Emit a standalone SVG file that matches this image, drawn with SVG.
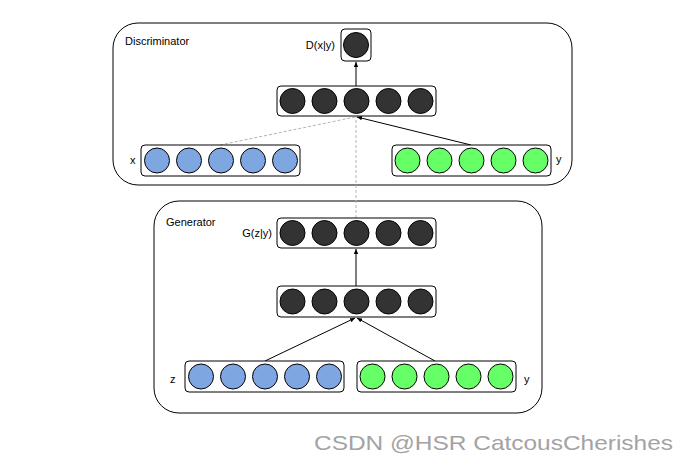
<svg xmlns="http://www.w3.org/2000/svg" width="689" height="463" viewBox="0 0 689 463">
<style>
.panel{fill:#fff;stroke:#000;stroke-width:1}
.layer{fill:#fff;stroke:#000;stroke-width:1}
.dk{fill:#333333;stroke:#000;stroke-width:1}
.bl{fill:#7EA6E0;stroke:#000;stroke-width:1}
.gr{fill:#66FF66;stroke:#000;stroke-width:1}
.t{font-family:"Liberation Sans",Arial,sans-serif;font-size:11px;fill:#000}
.edge{fill:none;stroke:#000;stroke-width:1}
.dash{fill:none;stroke:#b3b3b3;stroke-width:1;stroke-dasharray:3 2}
.wm{font-family:"Liberation Sans",Arial,sans-serif;font-size:21px;fill:#a3a3a3}
</style>
<defs>
<marker id="ah" markerWidth="6" markerHeight="6" refX="5" refY="3" orient="auto" markerUnits="userSpaceOnUse">
<path d="M0,0.8 L5,3 L0,5.2 Z" fill="#000"/>
</marker>
</defs>
<rect width="689" height="463" fill="#fff"/>
<g id="discriminator">
<rect class="panel" x="113" y="23" width="459" height="162" rx="25"/>
<text class="t" x="125" y="45">Discriminator</text>
</g>
<g id="generator">
<rect class="panel" x="154" y="201" width="388" height="212" rx="25"/>
<text class="t" x="166" y="226">Generator</text>
</g>
<g id="connectors">
<line class="edge" x1="356" y1="86" x2="356" y2="62" marker-end="url(#ah)"/>
<line class="edge" x1="471" y1="145" x2="357" y2="117" marker-end="url(#ah)"/>
<line class="dash" x1="220" y1="145" x2="355" y2="117"/>
<line class="dash" x1="356" y1="218" x2="356" y2="117"/>
<line class="edge" x1="356" y1="286" x2="356" y2="249" marker-end="url(#ah)"/>
<line class="edge" x1="265" y1="361" x2="355" y2="318" marker-end="url(#ah)"/>
<line class="edge" x1="435" y1="361" x2="357" y2="318" marker-end="url(#ah)"/>
</g>
<g id="d-out">
<rect class="layer" x="341" y="29" width="30" height="32" rx="4"/>
<circle class="dk" cx="356" cy="45" r="12.5"/>
<text class="t" x="335" y="49" text-anchor="end">D(x|y)</text>
</g>
<g id="d-hidden">
<rect class="layer" x="277" y="86" width="159" height="30" rx="4"/>
<circle class="dk" cx="292.5" cy="101" r="12.5"/>
<circle class="dk" cx="324.5" cy="101" r="12.5"/>
<circle class="dk" cx="356.5" cy="101" r="12.5"/>
<circle class="dk" cx="388.5" cy="101" r="12.5"/>
<circle class="dk" cx="420.5" cy="101" r="12.5"/>
</g>
<g id="d-x">
<rect class="layer" x="141" y="145" width="159" height="31" rx="4"/>
<circle class="bl" cx="157" cy="160.5" r="12.5"/>
<circle class="bl" cx="189" cy="160.5" r="12.5"/>
<circle class="bl" cx="221" cy="160.5" r="12.5"/>
<circle class="bl" cx="253" cy="160.5" r="12.5"/>
<circle class="bl" cx="285" cy="160.5" r="12.5"/>
<text class="t" x="130" y="164">x</text>
</g>
<g id="d-y">
<rect class="layer" x="392" y="145" width="159" height="31" rx="4"/>
<circle class="gr" cx="407.5" cy="160.5" r="12.5"/>
<circle class="gr" cx="439.5" cy="160.5" r="12.5"/>
<circle class="gr" cx="471.5" cy="160.5" r="12.5"/>
<circle class="gr" cx="503.5" cy="160.5" r="12.5"/>
<circle class="gr" cx="535.5" cy="160.5" r="12.5"/>
<text class="t" x="556" y="163">y</text>
</g>
<g id="g-out">
<rect class="layer" x="277" y="218" width="159" height="30" rx="4"/>
<circle class="dk" cx="292.5" cy="233" r="12.5"/>
<circle class="dk" cx="324.5" cy="233" r="12.5"/>
<circle class="dk" cx="356.5" cy="233" r="12.5"/>
<circle class="dk" cx="388.5" cy="233" r="12.5"/>
<circle class="dk" cx="420.5" cy="233" r="12.5"/>
<text class="t" x="272" y="237" text-anchor="end">G(z|y)</text>
</g>
<g id="g-hidden">
<rect class="layer" x="277" y="286" width="159" height="31" rx="4"/>
<circle class="dk" cx="292.5" cy="301.5" r="12.5"/>
<circle class="dk" cx="324.5" cy="301.5" r="12.5"/>
<circle class="dk" cx="356.5" cy="301.5" r="12.5"/>
<circle class="dk" cx="388.5" cy="301.5" r="12.5"/>
<circle class="dk" cx="420.5" cy="301.5" r="12.5"/>
</g>
<g id="g-z">
<rect class="layer" x="185" y="361" width="159" height="31" rx="4"/>
<circle class="bl" cx="201" cy="376.5" r="12.5"/>
<circle class="bl" cx="233" cy="376.5" r="12.5"/>
<circle class="bl" cx="265" cy="376.5" r="12.5"/>
<circle class="bl" cx="297" cy="376.5" r="12.5"/>
<circle class="bl" cx="329" cy="376.5" r="12.5"/>
<text class="t" x="170" y="383">z</text>
</g>
<g id="g-y">
<rect class="layer" x="357" y="361" width="159" height="31" rx="4"/>
<circle class="gr" cx="372.5" cy="376.5" r="12.5"/>
<circle class="gr" cx="404.5" cy="376.5" r="12.5"/>
<circle class="gr" cx="436.5" cy="376.5" r="12.5"/>
<circle class="gr" cx="468.5" cy="376.5" r="12.5"/>
<circle class="gr" cx="500.5" cy="376.5" r="12.5"/>
<text class="t" x="524" y="383">y</text>
</g>
<text class="wm" x="314" y="450" textLength="359" lengthAdjust="spacingAndGlyphs">CSDN @HSR CatcousCherishes</text>
</svg>
